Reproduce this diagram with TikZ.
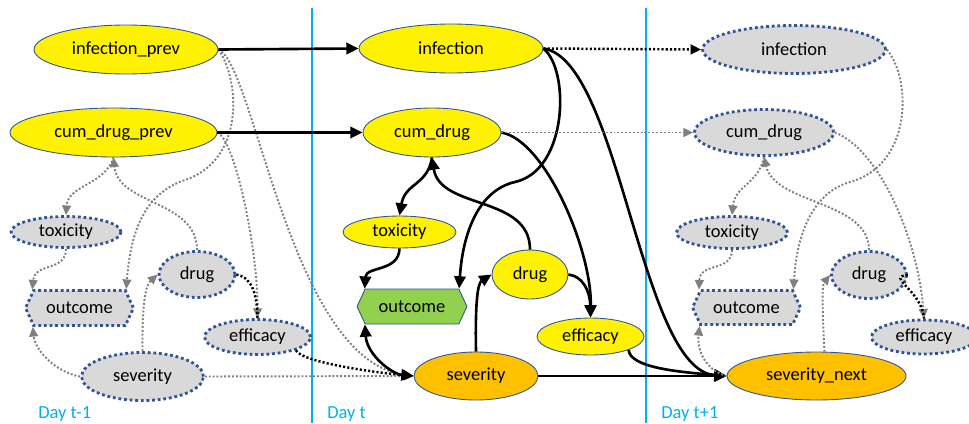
\documentclass[tikz,border=0pt]{standalone}
\usepackage{fontspec}
\setmainfont{Carlito}
\usepackage{tikz}
\usetikzlibrary{shapes.geometric,shapes.symbols,arrows.meta}
\definecolor{daysky}{HTML}{00B0F0}
\definecolor{rimblue}{HTML}{2F5597}
\definecolor{dotblue}{HTML}{2F5597}
\definecolor{ghostgray}{HTML}{D9D9D9}
\definecolor{sevorange}{HTML}{FFC000}
\definecolor{outgreen}{HTML}{92D050}
\definecolor{linkgray}{HTML}{7F7F7F}

\begin{document}
\begin{tikzpicture}[x=0.02cm,y=-0.02cm,font=\fontsize{10.5}{12}\selectfont,
		cur/.style={ellipse,draw=rimblue,line width=0.5pt,fill=yellow,inner sep=0pt},
		sevnode/.style={cur,fill=sevorange},
		ghost/.style={ellipse,draw=dotblue,fill=ghostgray,inner sep=0pt,line width=1.6pt,dash pattern=on 1.6pt off 1.6pt},
		hexa/.style={signal,signal to=west and east,signal pointer angle=130,inner sep=0pt},
		causal/.style={line width=1.5pt,-{Triangle[length=7pt,width=6.5pt]}},
		bdot/.style={line width=1.4pt,dash pattern=on 1.2pt off 1.2pt},
		gdot/.style={linkgray,line width=1.1pt,dash pattern=on 1.1pt off 1.1pt,-{Triangle[length=5.5pt,width=5pt]}},
		dayline/.style={daysky,line width=1.6pt},
		daylabel/.style={daysky,anchor=west,inner sep=0pt}]
		\useasboundingbox (0,0) rectangle (969,423);
		\draw[dayline] (312,8) -- (312,423);
		\draw[dayline] (646,8) -- (646,423);
		\node[daylabel] (dayA) at (38,414) {Day t-1};
		\node[daylabel] (dayB) at (327,414) {Day t};
		\node[daylabel] (dayC) at (661,414) {Day t+1};

		\node[cur,minimum width=3.68cm,minimum height=0.98cm] (ip) at (126,49.5) {infection\_prev};
		\node[cur,minimum width=4.14cm,minimum height=0.98cm] (cp) at (113.5,132.5) {cum\_drug\_prev};
		\node[ghost,minimum width=2.2cm,minimum height=0.62cm] (toxA) at (66,232) {toxicity};
		\node[ghost,hexa,minimum width=2.16cm,minimum height=0.7cm] (outA) at (79.5,308) {outcome};
		\node[ghost,minimum width=1.52cm,minimum height=0.92cm] (drugA) at (197,274.5) {drug};
		\node[ghost,minimum width=2.12cm,minimum height=0.7cm] (effA) at (257.5,337) {efficacy};
		\node[ghost,minimum width=2.44cm,minimum height=0.96cm] (sevA) at (142.5,376.5) {severity};

		\node[cur,minimum width=3.68cm,minimum height=0.98cm] (inf) at (451,48.5) {infection};
		\node[cur,minimum width=2.76cm,minimum height=0.98cm] (cum) at (432,132.5) {cum\_drug};
		\node[cur,minimum width=2.26cm,minimum height=0.64cm] (tox) at (399.5,232) {toxicity};
		\node[hexa,draw=rimblue,line width=0.5pt,fill=outgreen,minimum width=2.2cm,minimum height=0.7cm] (out) at (412,306.5) {outcome};
		\node[cur,minimum width=1.52cm,minimum height=0.98cm] (drug) at (530,274.5) {drug};
		\node[cur,minimum width=2.14cm,minimum height=0.74cm] (eff) at (590.5,336.5) {efficacy};
		\node[sevnode,minimum width=2.48cm,minimum height=0.96cm] (sev) at (476,376) {severity};

		\node[ghost,minimum width=3.66cm,minimum height=0.96cm] (infC) at (794,49.5) {infection};
		\node[ghost,minimum width=2.78cm,minimum height=0.92cm] (cumC) at (764,132.5) {cum\_drug};
		\node[ghost,minimum width=2.22cm,minimum height=0.64cm] (toxC) at (732,232.5) {toxicity};
		\node[ghost,hexa,minimum width=2.16cm,minimum height=0.68cm] (outC) at (746.5,307.5) {outcome};
		\node[ghost,minimum width=1.5cm,minimum height=0.94cm] (drugC) at (869,275) {drug};
		\node[ghost,minimum width=2.1cm,minimum height=0.68cm] (effC) at (924,337) {efficacy};
		\node[sevnode,minimum width=3.58cm,minimum height=0.96cm] (sevN) at (816.5,376) {severity\_next};

		\draw[gdot] (ip.east) .. controls (240,80) and (245,160) .. (185,180) .. controls (140,195) and (130,240) .. (outA.north east);
		\draw[gdot] (ip.east) .. controls (255,65) and (290,360) .. (sev.west);
		\draw[gdot] (cp.east) .. controls (235,140) and (258,250) .. (effA.north);
		\draw[gdot] (drugA.north) .. controls (197,200) and (118,205) .. (cp.south);
		\draw[gdot] (cp.south) .. controls (105,185) and (68,185) .. (toxA.north);
		\draw[gdot] (toxA.south) .. controls (66,272) and (35,262) .. (outA.north west);
		\draw[gdot] (sevA.west) .. controls (55,372) and (35,350) .. (outA.south west);
		\draw[gdot] (sevA.north) .. controls (142,300) and (146,285) .. (drugA.west);
		\draw[bdot] (drugA.east) .. controls (250,277) and (257,290) .. (effA.north);
		\draw[gdot] (sevA.east) -- (sev.west);
		\draw[bdot,-{Triangle[length=6pt,width=5.5pt]}] (effA.south east) .. controls (302,362) and (370,372) .. (sev.west);

		\draw[causal] (ip.east) -- (inf.west);
		\draw[causal] (cp.east) -- (cum.west);
		\draw[causal] (inf.east) .. controls (570,70) and (568,170) .. (515,182) .. controls (480,190) and (463,230) .. (out.north east);
		\draw[causal] (inf.east) .. controls (620,60) and (640,370) .. (sevN.west);
		\draw[causal] (cum.east) .. controls (545,140) and (592,250) .. (eff.north);
		\draw[causal] (drug.north) .. controls (530,195) and (440,210) .. (cum.south);
		\draw[causal] (cum.south) .. controls (428,185) and (405,183) .. (tox.north);
		\draw[causal] (tox.south) .. controls (399,272) and (366,266) .. (out.north west);
		\draw[causal,{Triangle[length=7pt,width=6.5pt]}-{Triangle[length=7pt,width=6.5pt]}] (sev.west) .. controls (392,374) and (367,355) .. (out.south west);
		\draw[causal] (sev.north) .. controls (475,300) and (478,283) .. (drug.west);
		\draw[causal] (drug.east) .. controls (582,276) and (590,290) .. (eff.north);
		\draw[causal] (sev.east) -- (sevN.west);
		\draw[causal] (eff.south east) .. controls (630,368) and (680,372) .. (sevN.west);
		\draw[bdot,-{Triangle[length=6pt,width=5.5pt]}] (inf.east) -- (infC.west);
		\draw[gdot] (cum.east) -- (cumC.west);

		\draw[gdot] (infC.east) .. controls (912,80) and (912,165) .. (850,182) .. controls (815,192) and (797,230) .. (outC.north east);
		\draw[gdot] (cumC.east) .. controls (880,150) and (918,240) .. (effC.north);
		\draw[gdot] (drugC.north) .. controls (869,200) and (775,205) .. (cumC.south);
		\draw[gdot] (cumC.south) .. controls (758,185) and (735,185) .. (toxC.north);
		\draw[gdot] (toxC.south) .. controls (732,272) and (700,262) .. (outC.north west);
		\draw[gdot] (sevN.west) .. controls (705,370) and (697,350) .. (outC.south west);
		\draw[gdot] (sevN.72) .. controls (822,300) and (822,285) .. (drugC.west);
		\draw[bdot] (drugC.east) .. controls (885,277) and (922,290) .. (effC.north);
	\end{tikzpicture}
\end{document}
